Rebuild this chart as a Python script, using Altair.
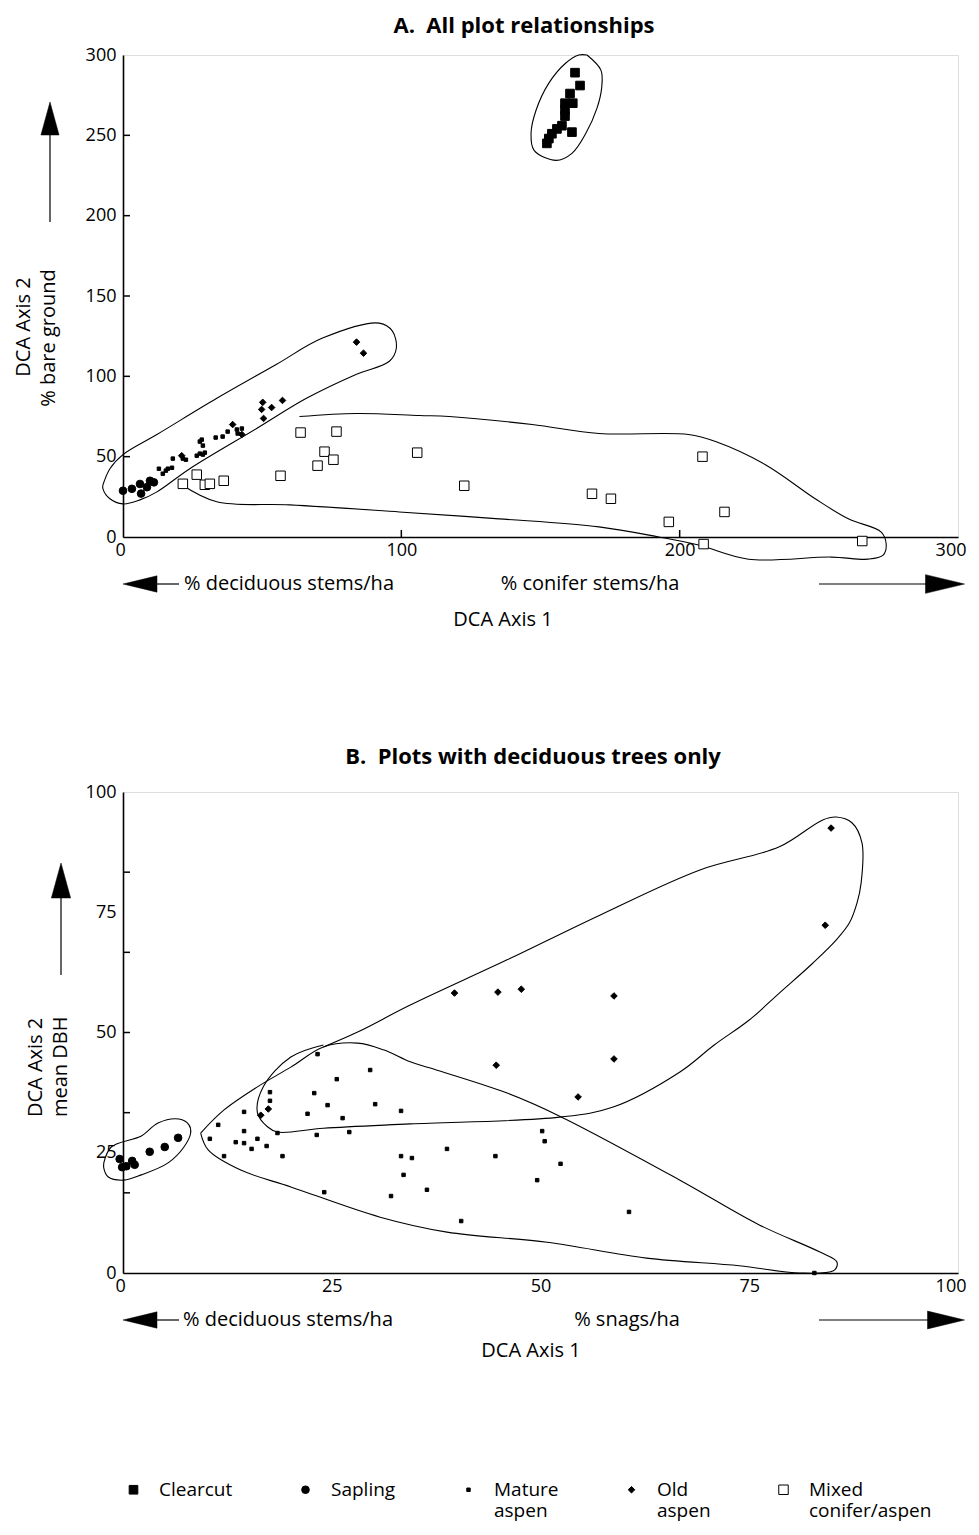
import altair as alt
import pandas as pd

FONT = "Open Sans"

# ---------------- categories / legend ----------------
types = ["Clearcut", "Sapling", "Mature aspen", "Old aspen", "Mixed conifer/aspen"]
shapes = ["square", "circle", "square", "diamond", "square"]
fills = ["black", "black", "black", "black", "white"]
# scale order, small -> large symbol ("" is an unused spacer step of the size scale)
scale_order = ["Mature aspen", "", "Old aspen", "Sapling", "Clearcut", "Mixed conifer/aspen"]
size_range = [12, 90]

# ---------------- Panel A : all plots ----------------
a_clearcut_x = [162.4, 164.2, 160.6, 161.6, 158.8, 158.8, 158.8, 157.7, 155.9, 161.3, 154.1, 153.0, 152.3]
a_clearcut_y = [289, 281, 276, 270, 270, 266, 262, 256, 254, 252, 251, 248, 245]

a_sapling_x = [0.0, 3.2, 6.1, 6.5, 8.6, 9.7, 11.1]
a_sapling_y = [28.8, 30.0, 33.0, 27.0, 31.0, 35.0, 34.0]

a_mature_x = [12.9, 14.3, 15.4, 16.1, 17.6, 17.9, 21.5, 22.6, 26.5, 27.6, 28.7, 29.4, 27.6, 28.3, 28.7,
              33.3, 35.8, 37.6, 40.9, 42.7, 41.2]
a_mature_y = [42.5, 39.4, 41.3, 42.5, 43.1, 48.8, 48.8, 48.1, 50.6, 51.9, 51.3, 52.5, 59.4, 60.6, 56.9,
              61.9, 62.5, 65.6, 66.9, 67.5, 64.4]

a_old_x = [21.1, 39.4, 42.7, 50.2, 49.8, 50.5, 53.4, 57.3, 83.9, 86.4]
a_old_y = [50.6, 70.0, 63.8, 83.8, 79.4, 73.8, 80.6, 85.0, 121.3, 114.4]

a_mixed_x = [21.5, 26.5, 29.4, 31.2, 36.2, 56.6, 63.8, 69.9, 72.4, 75.6, 76.7, 105.7, 122.6, 168.5,
             175.3, 208.2, 196.1, 216.1, 208.6, 265.6]
a_mixed_y = [33.1, 38.8, 32.5, 33.1, 35.0, 38.1, 65.0, 44.4, 53.1, 48.1, 65.6, 52.5, 31.9, 26.9,
             23.8, 50.0, 9.4, 15.6, -4.4, -2.5]

# hand-drawn group outlines (data units)
a_line_clearcut_x = [166.7, 171.7, 172.0, 170.3, 166.3, 161.3, 155.6, 147.7, 146.6, 148.4, 153.0, 159.1, 163.8, 166.7]
a_line_clearcut_y = [300, 290.6, 280, 266.9, 251.3, 238.8, 234.4, 240.6, 251.3, 265.6, 282.5, 295, 300, 300]
a_line_aspen_x = [-7.2, -4.7, 0, 12.2, 33.7, 55.2, 71.7, 92.1, 96.8, 98.2, 95.7, 83.9, 65.9, 48.0, 24.0,
                  12.2, 6.1, 0, -4.7, -7.2, -7.2]
a_line_aspen_y = [32.5, 42.5, 51.3, 63.8, 86.3, 107.5, 123.8, 133.1, 128.1, 117.5, 109.4, 101.3, 86.3, 67.5,
                  42.5, 28.1, 23.1, 20.6, 23.8, 30.0, 32.5]
a_line_mixed_x = [63.4, 83.9, 106.5, 117.2, 147.0, 171.0, 203.2, 212.9, 230.8, 248.7, 260.6, 272.4, 274.2,
                  273.1, 267.7, 254.5, 224.7, 206.8, 192.5, 171.0, 135.1, 99.3, 59.9, 33.7, 21.1]
a_line_mixed_y = [75, 76.9, 75.6, 75, 70, 64.4, 63.8, 59.4, 45, 23.8, 11.3, 3.1, -4.4, -11.3, -13.8,
                  -12.5, -13.8, -5, 0, 6.3, 11.3, 15.6, 20, 21.9, 32.5]

a_x_labels = [0, 100, 200, 300]
a_y_labels = [0, 50, 100, 150, 200, 250, 300]
a_x_ticks = [100, 200]
a_y_ticks = [50, 100, 150, 200, 250]

# ---------------- Panel B : deciduous plots ----------------
b_sapling_x = [-0.4, -0.1, 0.4, 1.1, 1.4, 3.2, 5.0, 6.6]
b_sapling_y = [23.7, 22.0, 22.2, 23.3, 22.5, 25.2, 26.2, 28.1]

b_mature_x = [23.3, 25.6, 29.6, 22.9, 24.5, 30.2, 33.3, 22.1, 26.3, 17.6, 17.6, 14.5, 11.4, 14.5, 18.5,
              23.2, 27.1, 10.4, 13.5, 14.5, 16.1, 15.4, 17.2, 12.1, 19.1, 33.3, 33.6, 24.1, 32.1, 50.2,
              50.5, 34.6, 38.8, 44.6, 52.4, 49.6, 36.4, 40.5, 60.6, 82.8]
b_mature_y = [45.5, 40.3, 42.2, 37.4, 34.9, 35.1, 33.7, 33.1, 32.2, 37.6, 35.8, 33.5, 30.8, 29.5, 29.1,
              28.7, 29.3, 27.9, 27.2, 27.0, 27.9, 25.8, 26.4, 24.3, 24.3, 24.3, 20.4, 16.8, 16.0, 29.5,
              27.4, 23.9, 25.8, 24.3, 22.7, 19.3, 17.3, 10.8, 12.7, 0.0]

b_old_x = [16.5, 17.4, 39.7, 44.9, 47.7, 58.8, 44.7, 58.8, 54.5, 84.8, 84.1]
b_old_y = [32.8, 34.1, 58.2, 58.4, 59.0, 57.6, 43.2, 44.5, 36.6, 92.5, 72.3]

b_line_sapling_x = [-2.3, -1.4, 2.2, 4.2, 6.7, 7.9, 8.1, 7.3, 5.4, 2.2, 0.1, -1.8, -2.3, -2.3]
b_line_sapling_y = [22.9, 26.2, 28.5, 31.2, 32.0, 30.8, 29.1, 26.2, 22.9, 20.4, 19.3, 20.0, 21.8, 22.9]
b_line_mature_x = [9.3, 12.1, 16.1, 20.1, 24.0, 28.1, 31.2, 34.4, 36.8, 46.0, 52.3, 66.7, 76.2, 83.4, 85.5,
                   85.2, 81.0, 73.8, 62.7, 50.8, 38.8, 30.8, 20.1, 14.1, 10.2, 9.3]
b_line_mature_y = [29.1, 33.9, 38.7, 42.8, 47.0, 47.8, 46.4, 43.9, 42.6, 37.4, 32.6, 19.3, 10.0, 4.4, 2.3,
                   0.6, 0.0, 1.5, 3.1, 6.4, 8.5, 11.6, 17.9, 21.4, 25.6, 29.1]
b_line_old_x = [24.0, 28.1, 34.4, 46.0, 57.1, 69.1, 78.6, 83.8, 85.4, 87.3, 88.5, 88.4, 87.9, 87.0, 85.4,
                82.6, 78.6, 75.0, 70.8, 66.7, 58.7, 52.3, 34.4, 24.0, 18.5, 17.3, 16.1, 16.8, 20.1, 24.0]
b_line_old_y = [47.0, 50.1, 55.7, 65.1, 74.4, 83.8, 88.6, 94.2, 94.8, 93.6, 89.4, 81.1, 76.9, 72.8, 69.2,
                64.4, 58.2, 52.6, 47.4, 41.8, 34.5, 32.4, 31.0, 30.1, 29.3, 30.4, 33.3, 38.7, 44.9, 47.4]

b_x_labels = [0, 25, 50, 75, 100]
b_y_labels = [0, 25, 50, 75, 100]
b_y_ticks = [100 / 6, 200 / 6, 50, 400 / 6, 500 / 6]

# ---------------- helpers ----------------
W, HA, HB = 835, 482, 481

shape_of = dict(zip(types, shapes))
fill_of = dict(zip(types, fills))
shape_range = [shape_of.get(t, "circle") for t in scale_order]
fill_range = [fill_of.get(t, "black") for t in scale_order]
stroke_range = ["black"] * len(scale_order)


def points_df(groups):
    return pd.concat([pd.DataFrame({"x": xs, "y": ys, "type": t}) for t, xs, ys in groups], ignore_index=True)


def lines_df(groups):
    frames = []
    for name, xs, ys in groups:
        frames.append(pd.DataFrame({"x": xs, "y": ys, "path": name, "i": list(range(len(xs)))}))
    return pd.concat(frames, ignore_index=True)


legend = alt.Legend(
    orient="none", legendX=1, legendY=1425, direction="horizontal", columns=5, values=types,
    columnPadding=63, title=None, labelFont=FONT, labelFontSize=19, labelColor="black",
    labelOffset=16, labelLimit=400, labelBaseline="middle",
    labelExpr="split(indexof(datum.label, ' ') < 0 ? datum.label + '| ' : replace(datum.label, ' ', '|'), '|')",
    symbolStrokeColor="black", symbolStrokeWidth=1,
)

UP = "M0,-1L0.55,1L-0.55,1Z"
LEFT = "M-1,0L1,-0.48L1,0.48Z"
RIGHT = "M1,0L-1,-0.48L-1,0.48Z"
one = pd.DataFrame({"k": [0]})


def txt(text, x, y, align="left", angle=0, size=20, weight="normal"):
    return alt.Chart(pd.DataFrame({"t": [text]})).mark_text(
        align=align, baseline="middle", angle=angle, font=FONT, fontSize=size, color="black",
        fontWeight=weight,
    ).encode(x=alt.value(x), y=alt.value(y), text="t:N")


def hline(x1, x2, y):
    return alt.Chart(one).mark_rule(stroke="black", strokeWidth=1.2).encode(
        x=alt.value(x1), x2=alt.value(x2), y=alt.value(y))


def vline(x, y1, y2):
    return alt.Chart(one).mark_rule(stroke="black", strokeWidth=1.2).encode(
        x=alt.value(x), y=alt.value(y1), y2=alt.value(y2))


def head(shape, x, y, length):
    return alt.Chart(one).mark_point(shape=shape, filled=True, fill="black", stroke="black",
                                     strokeWidth=0.5, size=length * length, opacity=1).encode(
        x=alt.value(x), y=alt.value(y))


def panel(pts, lns, xdom, ydom, xlab, ylab, xticks, yticks, h):
    xs = alt.Scale(domain=xdom, nice=False, zero=False)
    ys = alt.Scale(domain=ydom, nice=False, zero=False)
    xa = alt.Axis(values=xlab, title=None, ticks=False, tickSize=0, grid=False, labelPadding=4,
                  labelFont=FONT, labelFontSize=18, labelColor="black", domainColor="black",
                  domainWidth=1.6, labelFlush=True, labelFlushOffset=8, labelOverlap=False)
    ya = alt.Axis(values=ylab, title=None, ticks=False, tickSize=0, grid=False, labelPadding=7,
                  labelFont=FONT, labelFontSize=18, labelColor="black", domainColor="black",
                  domainWidth=1.6, labelFlush=False, labelOverlap=False)
    X = alt.X("x:Q", scale=xs, axis=xa)
    Y = alt.Y("y:Q", scale=ys, axis=ya)
    outl = alt.Chart(lns).mark_line(stroke="black", strokeWidth=1.1, interpolate="catmull-rom").encode(
        x=X, y=Y, detail="path:N", order="i:Q")
    pt = alt.Chart(pts).mark_point(filled=True, strokeWidth=1, opacity=1).encode(
        x=X, y=Y,
        shape=alt.Shape("type:N", scale=alt.Scale(domain=scale_order, range=shape_range), legend=legend),
        fill=alt.Fill("type:N", scale=alt.Scale(domain=scale_order, range=fill_range), legend=legend),
        stroke=alt.Stroke("type:N", scale=alt.Scale(domain=scale_order, range=stroke_range), legend=legend),
        size=alt.Size("type:N", scale=alt.Scale(domain=scale_order, range=size_range), legend=legend),
    )
    layers = [outl, pt]
    if yticks:
        layers.append(alt.Chart(pd.DataFrame({"y": yticks})).mark_rule(stroke="black", strokeWidth=1.5)
                      .encode(y=Y, x=alt.value(0), x2=alt.value(7)))
    if xticks:
        layers.append(alt.Chart(pd.DataFrame({"x": xticks})).mark_rule(stroke="black", strokeWidth=1.5)
                      .encode(x=X, y=alt.value(h), y2=alt.value(h - 7)))
    return layers


# ---------------- Panel A ----------------
ptsA = points_df([
    ("Clearcut", a_clearcut_x, a_clearcut_y),
    ("Sapling", a_sapling_x, a_sapling_y),
    ("Mature aspen", a_mature_x, a_mature_y),
    ("Old aspen", a_old_x, a_old_y),
    ("Mixed conifer/aspen", a_mixed_x, a_mixed_y),
])
lnsA = lines_df([
    ("clearcut", a_line_clearcut_x, a_line_clearcut_y),
    ("aspen", a_line_aspen_x, a_line_aspen_y),
    ("mixed", a_line_mixed_x, a_line_mixed_y),
])
layersA = panel(ptsA, lnsA, [0, 300], [0, 300], a_x_labels, a_y_labels, a_x_ticks, a_y_ticks, HA)
layersA += [
    txt("A.\u00a0 All plot relationships", 401, -29, align="center", size=22, weight="bold"),
    txt("DCA Axis 2", -99, 272, align="center", angle=270),
    txt("% bare ground", -74, 283, align="center", angle=270),
    vline(-73, 80, 167), head(UP, -73, 63.5, 33),
    head(LEFT, 17, 529, 34), hline(34, 56, 529),
    txt("% deciduous stems/ha", 61, 529),
    txt("% conifer stems/ha", 467, 529, align="center"),
    hline(696, 803, 529), head(RIGHT, 822, 529, 39),
    txt("DCA Axis 1", 380, 565, align="center"),
]
chartA = alt.layer(*layersA).properties(width=W, height=HA)

# ---------------- Panel B ----------------
ptsB = points_df([
    ("Sapling", b_sapling_x, b_sapling_y),
    ("Mature aspen", b_mature_x, b_mature_y),
    ("Old aspen", b_old_x, b_old_y),
])
lnsB = lines_df([
    ("sapling", b_line_sapling_x, b_line_sapling_y),
    ("mature", b_line_mature_x, b_line_mature_y),
    ("old", b_line_old_x, b_line_old_y),
])
layersB = panel(ptsB, lnsB, [0, 100], [0, 100], b_x_labels, b_y_labels, None, b_y_ticks, HB)
layersB += [
    txt("B.\u00a0 Plots with deciduous trees only", 410, -35, align="center", size=22, weight="bold"),
    txt("DCA Axis 2", -87, 325, align="left", angle=270),
    txt("mean DBH", -62, 325, align="left", angle=270),
    vline(-62, 106, 183), head(UP, -62, 88.5, 35),
    head(LEFT, 17, 528, 34), hline(34, 56, 528),
    txt("% deciduous stems/ha", 60, 528),
    txt("% snags/ha", 504, 528, align="center"),
    hline(696, 805, 528), head(RIGHT, 823, 528, 37),
    txt("DCA Axis 1", 408, 559, align="center"),
]
chartB = alt.layer(*layersB).properties(width=W, height=HB)

chart = alt.vconcat(chartA, chartB, spacing=255, bounds="flush").properties(
    padding={"left": 5, "top": 6, "right": 3, "bottom": 2}
).configure_view(stroke="black", strokeWidth=1.5).configure(background="white")

chart.save("out.html", embed_options={"renderer": "svg", "actions": False})
